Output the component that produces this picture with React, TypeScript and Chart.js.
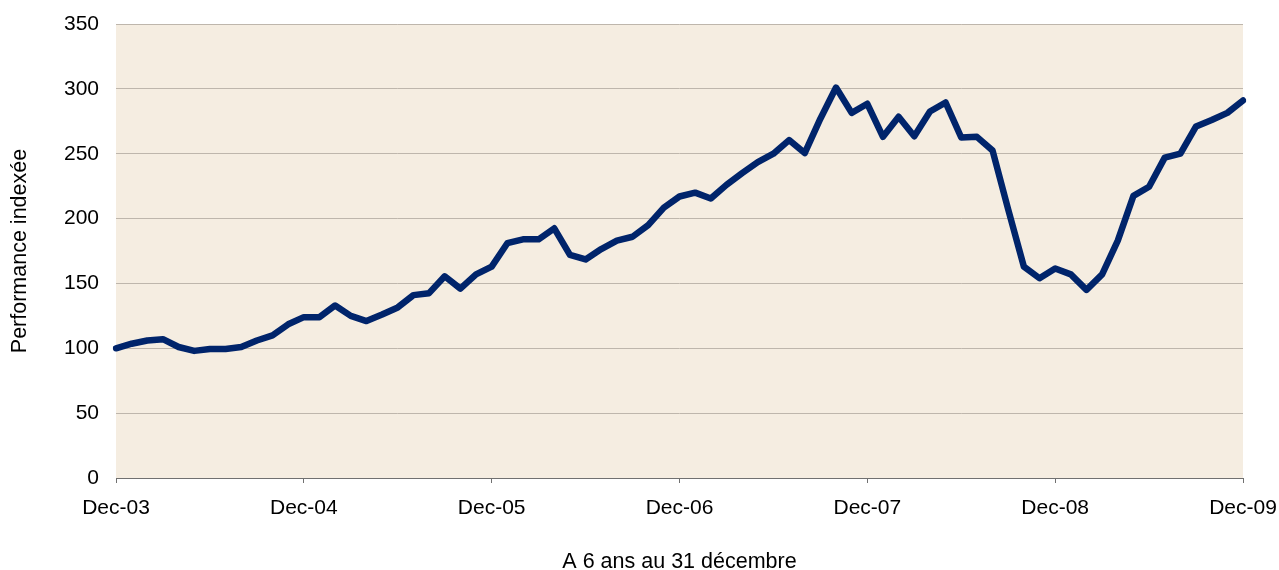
import React, { useEffect, useRef } from "react";
import { Chart, registerables } from "chart.js";

Chart.register(...registerables);

const monthNames = ["Jan", "Feb", "Mar", "Apr", "May", "Jun", "Jul", "Aug", "Sep", "Oct", "Nov", "Dec"];
const years = ["03", "04", "05", "06", "07", "08", "09"];

// Monthly categories Dec-03 .. Dec-09
const categories: string[] = ["Dec-03"];
for (let y = 1; y < years.length; y++) {
  for (let m = 0; m < 12; m++) categories.push(monthNames[m] + "-" + years[y]);
}

const performance = [
  100, 103.5, 106, 107, 101, 98, 99.5, 99.5, 101, 106, 110, 118.5,
  124, 124, 133, 125, 121, 126, 131.5, 141, 142.5, 155.5, 146, 157,
  163, 181, 184, 184, 192.5, 172, 168.5, 176.5, 183, 186, 195, 208.5,
  217, 220, 215.5, 226, 235, 243.5, 250, 260.5, 250.5, 277, 301, 281.5,
  288.5, 263, 278.5, 263.5, 282.5, 289.5, 262.5, 263, 252.5, 207, 163, 154,
  161.5, 157, 145, 157, 183, 217.5, 224.5, 247, 250, 271, 276, 281.5,
  291,
];

const yTicks = [0, 50, 100, 150, 200, 250, 300, 350];
const yTitle = "Performance indexée";
const xTitle = "A 6 ans au 31 décembre";

const FONT = "'Liberation Sans', Arial, sans-serif";

const plotBg = {
  id: "plotBg",
  beforeDraw(chart: any) {
    const { ctx, chartArea } = chart;
    if (!chartArea) return;
    ctx.save();
    ctx.fillStyle = "#F5EDE1";
    ctx.fillRect(chartArea.left, chartArea.top, chartArea.right - chartArea.left, chartArea.bottom - chartArea.top);
    ctx.restore();
  },
};

export default function App() {
  const ref = useRef<HTMLCanvasElement | null>(null);
  useEffect(() => {
    if (!ref.current) return;
    const chart = new Chart(ref.current, {
      type: "line",
      data: {
        labels: categories,
        datasets: [
          {
            data: performance,
            borderColor: "#00246B",
            borderWidth: 6.5,
            pointRadius: 0,
            tension: 0,
            borderJoinStyle: "round",
            borderCapStyle: "round",
            fill: false,
          },
        ],
      },
      options: {
        responsive: false,
        animation: false,
        layout: { padding: { top: 24, right: 36, bottom: 0, left: 0 } },
        plugins: { legend: { display: false }, tooltip: { enabled: false } },
        scales: {
          x: {
            type: "category",
            offset: false,
            grid: {
              drawOnChartArea: false,
              drawTicks: true,
              tickLength: 5,
              color: (c: any) => (c.index % 12 === 0 ? "#707070" : "rgba(0,0,0,0)"),
            },
            border: { display: true, color: "#707070", width: 1 },
            ticks: {
              autoSkip: false,
              maxRotation: 0,
              minRotation: 0,
              padding: 13,
              color: "#000",
              font: { family: FONT, size: 21 },
              callback: (_v: any, i: number) => (i % 12 === 0 ? categories[i] : ""),
            },
            title: {
              display: true,
              text: xTitle,
              color: "#000",
              font: { family: FONT, size: 21.5, lineHeight: 1 },
              padding: { top: 0, bottom: -3 },
            },
            afterFit: (s: any) => {
              s.height = 92;
              s.paddingLeft = 0;
              s.paddingRight = 0;
            },
          },
          y: {
            min: 0,
            max: 350,
            afterBuildTicks: (s: any) => {
              s.ticks = yTicks.map((v) => ({ value: v }));
            },
            grid: { drawTicks: false, color: "#BEB6AC", lineWidth: 1 },
            border: { display: false },
            ticks: {
              padding: 17,
              color: "#000",
              font: { family: FONT, size: 21 },
            },
            title: {
              display: true,
              text: yTitle,
              color: "#000",
              font: { family: FONT, size: 21.5, lineHeight: 1 },
              padding: { top: 9, bottom: 0 },
            },
            afterFit: (s: any) => {
              s.width = 116;
              s.paddingTop = 0;
              s.paddingBottom = 0;
            },
          },
        },
      },
      plugins: [plotBg],
    });
    return () => chart.destroy();
  }, []);
  return (
    <div style={{ position: "fixed", left: 0, top: 0, width: 1279, height: 570, background: "#fff" }}>
      <canvas ref={ref} width={1279} height={570} style={{ width: 1279, height: 570, display: "block" }} />
    </div>
  );
}
